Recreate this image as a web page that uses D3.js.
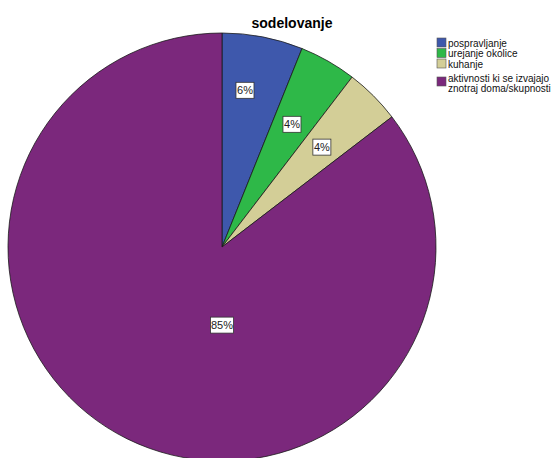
<!DOCTYPE html>
<html lang="sl">
<head>
    <meta charset="UTF-8">
    <title>sodelovanje</title>
    <script src="https://d3js.org/d3.v7.min.js"></script>
    <style>
        html, body { margin: 0; padding: 0; background: #fff; }
        text { font-family: "Liberation Sans", Arial, sans-serif; }
    </style>
</head>
<body>
    <div id="chart"></div>

    <script>
        // data (percent of cases)
        const categories = ["pospravljanje", "urejanje okolice", "kuhanje", "aktivnosti ki se izvajajo znotraj doma/skupnosti"];
        const values = [6.1, 4.3, 4.2, 85.4];
        const valueLabels = ["6%", "4%", "4%", "85%"];
        const legendLines = [["pospravljanje"], ["urejanje okolice"], ["kuhanje"], ["aktivnosti ki se izvajajo", "znotraj doma/skupnosti"]];
        const colors = ["#3e58ac", "#2eb848", "#d3ce97", "#7b287c"];

        const width = 553, height = 458;
        const cx = 222, cy = 247, radius = 214;

        const svg = d3.select("#chart")
          .append("svg")
            .attr("width", width)
            .attr("height", height);

        // title
        svg.append("text")
            .attr("x", 292)
            .attr("y", 28)
            .attr("text-anchor", "middle")
            .style("font-size", "14px")
            .style("font-weight", "bold")
            .text("sodelovanje");

        const pie = d3.pie().sort(null).value(d => d);
        const arcs = pie(values);
        const arc = d3.arc().innerRadius(0).outerRadius(radius);

        const g = svg.append("g")
            .attr("transform", `translate(${cx},${cy})`);

        g.selectAll("path")
          .data(arcs)
          .join("path")
            .attr("d", arc)
            .attr("fill", (d, i) => colors[i])
            .attr("stroke", "#1a1a1a")
            .attr("stroke-width", 0.8);

        // label placement, roughly like SPSS does it
        function labelPos(d, i) {
            if (d.endAngle - d.startAngle > Math.PI) {
                // big slice: label below the centre
                return [0, radius * 0.365];
            }
            const r = i === 0 ? radius * 0.74 : radius * 0.66;
            const a = i === 0 ? (d.startAngle + d.endAngle) / 2 * 0.76 : (d.startAngle + d.endAngle) / 2;
            return [Math.sin(a) * r, -Math.cos(a) * r];
        }

        const labels = g.selectAll("g.lbl")
          .data(arcs)
          .join("g")
            .attr("class", "lbl")
            .attr("transform", (d, i) => `translate(${labelPos(d, i)})`);

        labels.append("rect")
            .attr("x", (d, i) => valueLabels[i].length > 2 ? -11.5 : -9)
            .attr("y", -8)
            .attr("width", (d, i) => valueLabels[i].length > 2 ? 23 : 18)
            .attr("height", 16)
            .attr("fill", "#fff")
            .attr("stroke", "#333")
            .attr("stroke-width", 0.8);

        labels.append("text")
            .attr("text-anchor", "middle")
            .attr("y", 4)
            .style("font-size", "11px")
            .attr("fill", "#222")
            .text((d, i) => valueLabels[i]);

        // legend
        const rowY = [38, 48.5, 59, 77];
        const legend = svg.append("g")
            .attr("transform", "translate(437,0)");

        const items = legend.selectAll("g")
          .data(categories)
          .join("g")
            .attr("transform", (d, i) => `translate(0,${rowY[i]})`);

        items.append("rect")
            .attr("width", 9)
            .attr("height", 9)
            .attr("fill", (d, i) => colors[i])
            .attr("stroke", "#555")
            .attr("stroke-width", 0.6);

        items.each(function(d, i) {
            const lines = legendLines[i];
            const off = lines.length > 1 ? -4 : 0;
            d3.select(this).selectAll("text")
              .data(lines)
              .join("text")
                .attr("x", 11)
                .attr("y", (t, j) => 8.5 + off + j * 10)
                .style("font-size", "10px")
                .attr("fill", "#111")
                .text(t => t);
        });
    </script>
</body>
</html>
